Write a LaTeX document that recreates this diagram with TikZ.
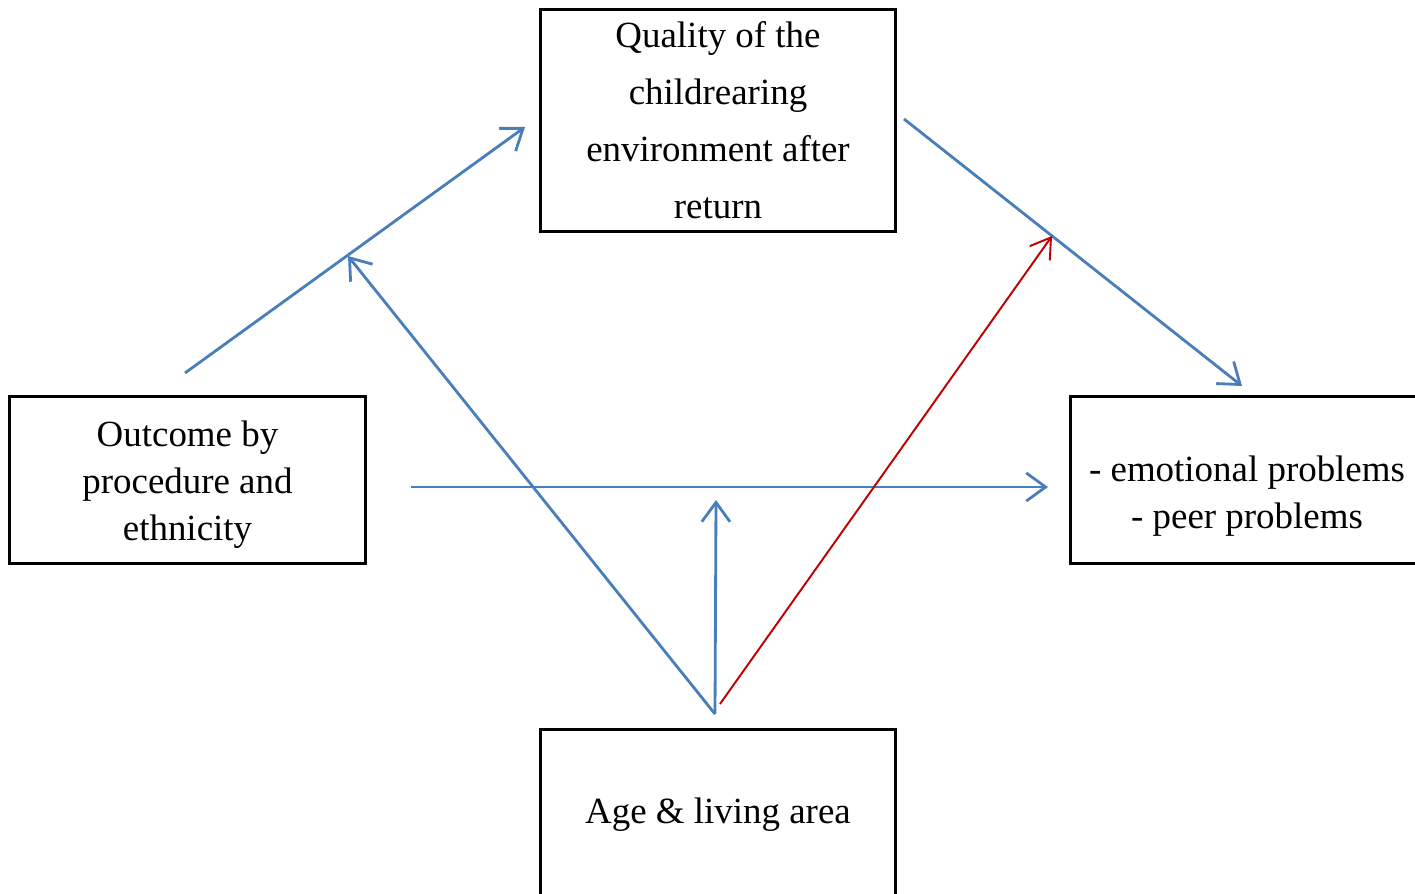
\documentclass[tikz,border=0pt]{standalone}
\usepackage{fontspec}
\setmainfont{Liberation Serif}
\usetikzlibrary{arrows.meta}
\definecolor{lineblue}{RGB}{74,126,187}
\definecolor{linered}{RGB}{192,0,0}
\tikzset{
  box/.style={draw=black, line width=0.85pt, align=center, inner sep=0pt,
    font=\fontsize{10.5}{13.4}\selectfont},
  label/.style={align=center, inner sep=0pt, font=\fontsize{10.5}{13.4}\selectfont},
  bluearrow/.style={draw=lineblue, line width=0.8pt,
    -{Straight Barb[length=5.5pt,width=8pt,line width=0.8pt]}},
  redarrow/.style={draw=linered, line width=0.55pt,
    -{Straight Barb[length=5.5pt,width=7pt,line width=0.55pt]}}
}
\begin{document}
\begin{tikzpicture}[x=0.01cm,y=-0.01cm]
\useasboundingbox (0,0) rectangle (1415,894);
\clip (0,0) rectangle (1415,894);
% boxes
\node[box, minimum width=3.54cm, minimum height=2.21cm,
  font=\fontsize{10.5}{16.2}\selectfont] (top) at (718,120.5)
  {Quality of the\\ childrearing\\ environment after\\ return};
\node[box, minimum width=3.55cm, minimum height=1.66cm] (left) at (187.5,480) {};
\node[label] (lefttext) at (187.5,485)
  {Outcome by\\ procedure and\\ ethnicity};
\node[box, minimum width=3.58cm, minimum height=1.66cm] (right) at (1250,480) {};
\node[label] (righttext) at (1247,496)
  {- emotional problems\\ - peer problems};
\node[box, minimum width=3.54cm, minimum height=1.70cm] (bottom) at (718,815)
  {Age \& living area};
% connector end points
\coordinate (a1s) at (185,373);
\coordinate (a1e) at (525,127);
\coordinate (a2s) at (904,119);
\coordinate (a2e) at (1242,386);
\coordinate (a3s) at (411,487);
\coordinate (a3e) at (1048,487);
\coordinate (src) at (715,714);
\coordinate (a4e) at (348,256);
\coordinate (a5e) at (716,500);
\coordinate (rs) at (720,704);
\coordinate (re) at (1052,236);
% connectors
\draw[bluearrow] (a1s) -- (a1e);
\draw[bluearrow] (a2s) -- (a2e);
\draw[bluearrow] (a3s) -- (a3e);
\draw[bluearrow] (src) -- (a4e);
\draw[bluearrow] (src) -- (a5e);
\draw[redarrow] (rs) -- (re);
\end{tikzpicture}
\end{document}
